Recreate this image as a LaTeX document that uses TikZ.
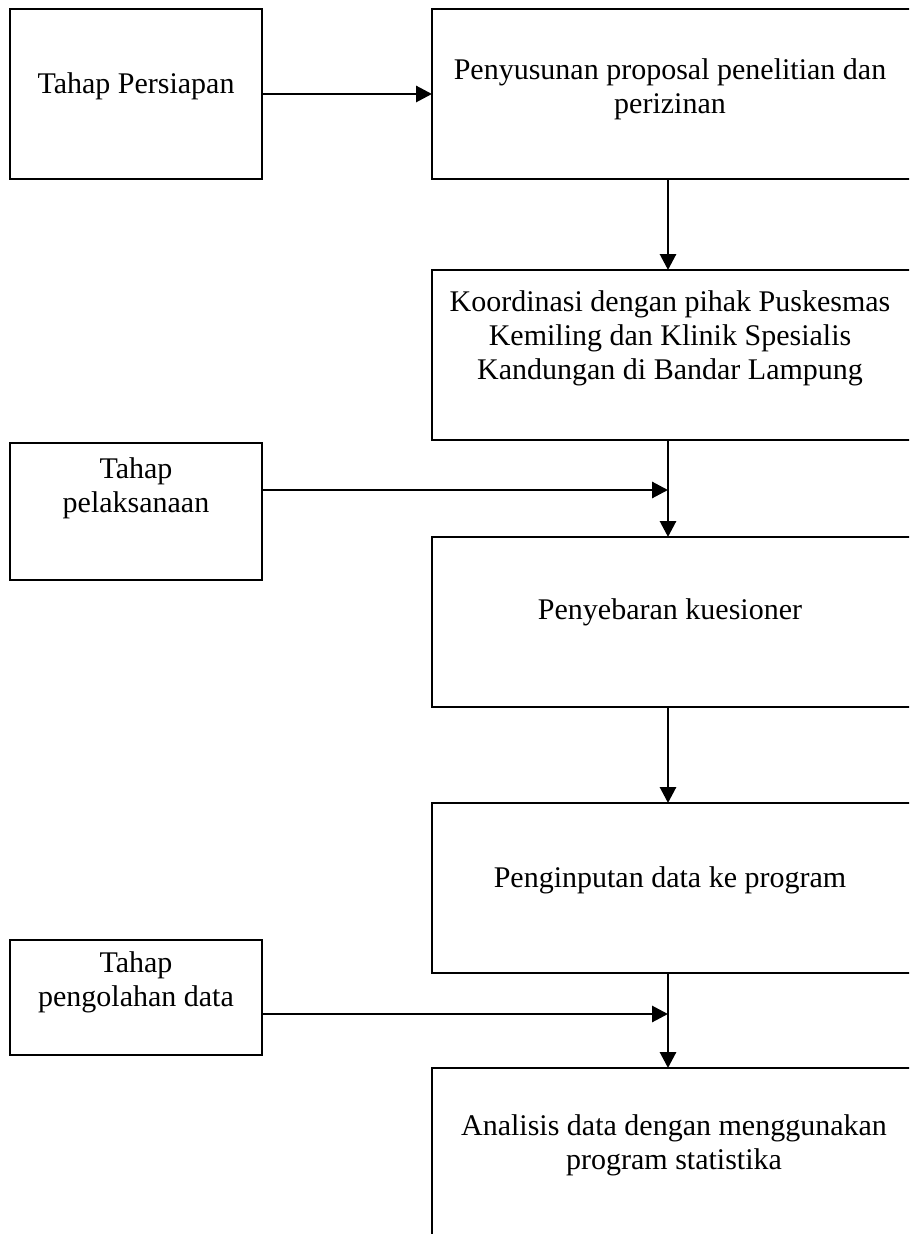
\documentclass[tikz,border=0pt]{standalone}
\usepackage{fontspec}
\setmainfont{Liberation Serif}
\usetikzlibrary{arrows.meta,fit}

\tikzset{
  stagebox/.style={draw, line width=1.3pt, inner sep=0pt, outer sep=0pt},
  stagetext/.style={align=center, inner sep=0pt, font=\fontsize{13.2}{15}\selectfont},
  flow/.style={line width=1.3pt, -{Triangle[length=7pt,width=7pt]}}
}

\begin{document}
\begin{tikzpicture}[x=0.44pt,y=-0.44pt]

\useasboundingbox (0,0) rectangle (909,1234);
\clip (0,0) rectangle (909,1234);

\coordinate (spine) at (668,0);
\coordinate (j1) at (668,490);
\coordinate (j2) at (668,1014);

\node[stagebox, fit={(10,9) (262,179)}] (l1) {};
\node[stagebox, fit={(10,443) (262,580)}] (l2) {};
\node[stagebox, fit={(10,940) (262,1055)}] (l3) {};

\node[stagebox, fit={(432,9) (914,179)}] (r1) {};
\node[stagebox, fit={(432,270) (914,440)}] (r2) {};
\node[stagebox, fit={(432,537) (914,707)}] (r3) {};
\node[stagebox, fit={(432,803) (914,973)}] (r4) {};
\node[stagebox, fit={(432,1068) (914,1250)}] (r5) {};

\node[stagetext] (l1t) at (136,86) {Tahap Persiapan};
\node[stagetext] (l2t) at (136,488) {Tahap\\pelaksanaan};
\node[stagetext] (l3t) at (136,982) {Tahap\\pengolahan data};

\node[stagetext] (r1t) at (670,89) {Penyusunan proposal penelitian dan\\perizinan};
\node[stagetext] (r2t) at (670,338) {Koordinasi dengan pihak Puskesmas\\Kemiling dan Klinik Spesialis\\Kandungan di Bandar Lampung};
\node[stagetext] (r3t) at (670,612) {Penyebaran kuesioner};
\node[stagetext] (r4t) at (670,880) {Penginputan data ke program};
\node[stagetext] (r5t) at (674,1145) {Analisis data dengan menggunakan\\program statistika};

\draw[flow] (l1) -- (r1);
\draw[flow] (r1.south -| spine) -- (r2.north -| spine);
\draw[flow] (r2.south -| spine) -- (r3.north -| spine);
\draw[flow] (l2.east |- j1) -- (j1);
\draw[flow] (r3.south -| spine) -- (r4.north -| spine);
\draw[flow] (r4.south -| spine) -- (r5.north -| spine);
\draw[flow] (l3.east |- j2) -- (j2);

\end{tikzpicture}
\end{document}
